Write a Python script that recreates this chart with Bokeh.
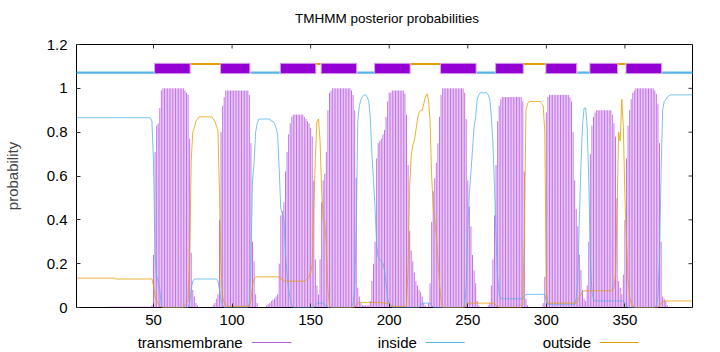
from bokeh.plotting import figure
from bokeh.models import Range1d, FixedTicker, ColumnDataSource
from bokeh.layouts import column
from bokeh.embed import file_html
from bokeh.resources import INLINE
from bokeh.core.properties import value

TITLE = "TMHMM posterior probabilities"
Y_LABEL = "probability"
X_TICKS = [50, 100, 150, 200, 250, 300, 350]
Y_TICKS = [0, 0.2, 0.4, 0.6, 0.8, 1.0, 1.2]
Y_TICK_LABELS = ["0", "0.2", "0.4", "0.6", "0.8", "1", "1.2"]
LEGEND_LABELS = ["transmembrane", "inside", "outside"]
SEQ_LEN = 393
residue = list(range(1, SEQ_LEN + 1))

# posterior probability of transmembrane helix, per residue (1..393)
transmembrane = [
    0, 0, 0, 0, 0, 0, 0, 0, 0, 0,
    0, 0, 0, 0, 0, 0, 0, 0, 0, 0,
    0, 0.004, 0.004, 0.004, 0.004, 0.004, 0.004, 0.004, 0.004, 0.004,
    0.004, 0.004, 0.004, 0.004, 0.004, 0.004, 0.004, 0.004, 0.004, 0.004,
    0.004, 0.004, 0.004, 0.004, 0.004, 0.004, 0.004, 0.004, 0.01, 0.24,
    0.71, 0.83, 0.84, 0.91, 0.99, 1, 1, 1, 1, 1,
    1, 1, 1, 1, 1, 1, 1, 1, 1, 0.99,
    0.98, 0.97, 0.77, 0.25, 0.08, 0.05, 0.02, 0.01, 0, 0,
    0, 0, 0, 0, 0, 0, 0, 0.01, 0.02, 0.04,
    0.06, 0.40, 0.80, 0.92, 0.96, 0.99, 0.99, 0.99, 0.99, 0.99,
    0.99, 0.99, 0.99, 0.99, 0.99, 0.99, 0.99, 0.99, 0.99, 0.99,
    0.97, 0.75, 0.30, 0.21, 0.06, 0.02, 0, 0, 0, 0,
    0, 0.01, 0.015, 0.02, 0.03, 0.035, 0.04, 0.05, 0.06, 0.20,
    0.42, 0.44, 0.48, 0.62, 0.71, 0.79, 0.84, 0.87, 0.88, 0.88,
    0.88, 0.88, 0.88, 0.88, 0.88, 0.87, 0.86, 0.85, 0.84, 0.82,
    0.78, 0.58, 0.22, 0.10, 0.06, 0.22, 0.48, 0.58, 0.61, 0.71,
    0.90, 0.98, 0.99, 1, 1, 1, 1, 1, 1, 1,
    1, 1, 1, 1, 1, 0.99, 0.97, 0.90, 0.59, 0.09,
    0.05, 0.02, 0.01, 0.01, 0.01, 0.01, 0.01, 0.03, 0.12, 0.20,
    0.30, 0.68, 0.75, 0.76, 0.77, 0.79, 0.81, 0.87, 0.94, 0.98,
    0.98, 0.99, 0.99, 0.99, 0.99, 0.99, 0.99, 0.99, 0.99, 0.975,
    0.88, 0.65, 0.35, 0.26, 0.21, 0.16, 0.12, 0.10, 0.08, 0.07,
    0.05, 0.02, 0.01, 0, 0.02, 0.11, 0.39, 0.53, 0.59, 0.66,
    0.75, 0.87, 0.97, 1, 1, 1, 1, 1, 1, 1,
    1, 1, 1, 1, 1, 1, 1, 0.98, 0.86, 0.58,
    0.46, 0.37, 0.24, 0.17, 0.11, 0.03, 0.01, 0, 0, 0,
    0, 0, 0.01, 0.02, 0.10, 0.22, 0.42, 0.65, 0.85, 0.92,
    0.95, 0.96, 0.96, 0.96, 0.96, 0.96, 0.96, 0.96, 0.96, 0.96,
    0.96, 0.96, 0.96, 0.96, 0.94, 0.62, 0.04, 0.01, 0, 0,
    0, 0, 0, 0, 0, 0, 0, 0.02, 0.14, 0.89,
    0.96, 0.97, 0.97, 0.97, 0.97, 0.97, 0.97, 0.97, 0.97, 0.97,
    0.97, 0.97, 0.97, 0.97, 0.96, 0.94, 0.80, 0.58, 0.45, 0.37,
    0.24, 0.17, 0.08, 0.04, 0.03, 0.10, 0.30, 0.70, 0.83, 0.87,
    0.89, 0.90, 0.90, 0.90, 0.90, 0.90, 0.90, 0.90, 0.90, 0.90,
    0.90, 0.88, 0.84, 0.78, 0.50, 0.12, 0.09, 0.06, 0.15, 0.40,
    0.68, 0.83, 0.90, 0.95, 0.98, 0.99, 1, 1, 1, 1,
    1, 1, 1, 1, 1, 1, 1, 1, 0.99, 0.975,
    0.93, 0.75, 0.30, 0.05, 0.04, 0.03, 0.01, 0, 0, 0,
    0, 0, 0, 0, 0, 0, 0, 0, 0, 0,
    0, 0, 0,
]

# posterior probability of "inside", per residue
inside = [
    0.866, 0.866, 0.866, 0.866, 0.866, 0.866, 0.866, 0.866, 0.866, 0.866,
    0.866, 0.866, 0.866, 0.866, 0.866, 0.866, 0.866, 0.866, 0.866, 0.866,
    0.866, 0.866, 0.866, 0.866, 0.866, 0.866, 0.866, 0.866, 0.866, 0.866,
    0.866, 0.866, 0.866, 0.866, 0.866, 0.866, 0.866, 0.866, 0.866, 0.866,
    0.866, 0.866, 0.866, 0.866, 0.866, 0.866, 0.866, 0.866, 0.85, 0.66,
    0.24, 0.14, 0.12, 0.08, 0.01, 0, 0, 0, 0, 0,
    0, 0, 0, 0, 0, 0, 0, 0, 0, 0,
    0, 0, 0.02, 0.08, 0.12, 0.13, 0.13, 0.13, 0.13, 0.13,
    0.13, 0.13, 0.13, 0.13, 0.13, 0.13, 0.13, 0.13, 0.13, 0.13,
    0.12, 0.08, 0.03, 0.01, 0, 0, 0, 0, 0, 0,
    0, 0, 0, 0, 0, 0, 0, 0, 0, 0,
    0.02, 0.20, 0.58, 0.66, 0.80, 0.84, 0.86, 0.86, 0.86, 0.86,
    0.86, 0.86, 0.86, 0.86, 0.85, 0.85, 0.84, 0.82, 0.79, 0.63,
    0.45, 0.43, 0.40, 0.25, 0.15, 0.08, 0.04, 0.01, 0, 0,
    0, 0, 0, 0, 0, 0, 0, 0, 0, 0,
    0, 0, 0.01, 0.02, 0.02, 0.02, 0.02, 0.02, 0.01, 0.01,
    0, 0, 0, 0, 0, 0, 0, 0, 0, 0,
    0, 0, 0, 0, 0, 0, 0.02, 0.08, 0.35, 0.85,
    0.92, 0.95, 0.96, 0.97, 0.97, 0.96, 0.94, 0.86, 0.70, 0.58,
    0.45, 0.28, 0.23, 0.22, 0.21, 0.20, 0.17, 0.11, 0.04, 0.02,
    0.01, 0, 0, 0, 0, 0, 0, 0, 0, 0,
    0, 0, 0, 0, 0, 0, 0, 0, 0, 0.01,
    0.02, 0.02, 0.02, 0.02, 0.02, 0.02, 0.01, 0, 0, 0,
    0, 0, 0, 0, 0, 0, 0, 0, 0, 0,
    0, 0, 0, 0, 0, 0, 0, 0.01, 0.10, 0.35,
    0.52, 0.62, 0.72, 0.82, 0.87, 0.95, 0.97, 0.98, 0.98, 0.98,
    0.98, 0.98, 0.97, 0.95, 0.87, 0.75, 0.55, 0.32, 0.14, 0.06,
    0.04, 0.04, 0.04, 0.04, 0.04, 0.04, 0.04, 0.04, 0.04, 0.04,
    0.04, 0.04, 0.04, 0.04, 0.04, 0.05, 0.06, 0.06, 0.06, 0.06,
    0.06, 0.06, 0.06, 0.06, 0.06, 0.06, 0.06, 0.06, 0.06, 0.03,
    0.015, 0.015, 0.015, 0.015, 0.015, 0.015, 0.015, 0.015, 0.015, 0.015,
    0.015, 0.015, 0.015, 0.015, 0.015, 0.015, 0.015, 0.015, 0.04, 0.12,
    0.40, 0.65, 0.83, 0.91, 0.91, 0.82, 0.58, 0.22, 0.07, 0.04,
    0.03, 0.03, 0.03, 0.03, 0.03, 0.03, 0.03, 0.03, 0.03, 0.03,
    0.03, 0.03, 0.03, 0.03, 0.03, 0.03, 0.03, 0.03, 0.03, 0.02,
    0.01, 0, 0, 0, 0, 0, 0, 0, 0, 0,
    0, 0, 0, 0, 0, 0, 0, 0, 0, 0.01,
    0.05, 0.22, 0.62, 0.90, 0.94, 0.95, 0.96, 0.965, 0.97, 0.97,
    0.97, 0.97, 0.97, 0.97, 0.97, 0.97, 0.97, 0.97, 0.97, 0.97,
    0.97, 0.97, 0.97,
]

# posterior probability of "outside", per residue
outside = [
    0.134, 0.134, 0.134, 0.134, 0.134, 0.134, 0.134, 0.134, 0.134, 0.134,
    0.134, 0.134, 0.134, 0.134, 0.134, 0.134, 0.134, 0.134, 0.134, 0.134,
    0.134, 0.134, 0.134, 0.134, 0.134, 0.13, 0.13, 0.13, 0.13, 0.13,
    0.13, 0.13, 0.13, 0.13, 0.13, 0.13, 0.13, 0.13, 0.13, 0.13,
    0.13, 0.13, 0.13, 0.13, 0.13, 0.13, 0.13, 0.13, 0.13, 0.10,
    0.05, 0.03, 0.02, 0.01, 0, 0, 0, 0, 0, 0,
    0, 0, 0, 0, 0, 0, 0, 0, 0, 0.01,
    0.02, 0.03, 0.21, 0.67, 0.80, 0.82, 0.85, 0.86, 0.87, 0.87,
    0.87, 0.87, 0.87, 0.87, 0.87, 0.87, 0.87, 0.86, 0.85, 0.83,
    0.81, 0.52, 0.17, 0.05, 0.02, 0.01, 0.005, 0.005, 0.005, 0.005,
    0.005, 0.005, 0.005, 0.005, 0.005, 0.005, 0.005, 0.005, 0.005, 0.005,
    0.01, 0.03, 0.10, 0.13, 0.14, 0.14, 0.14, 0.14, 0.14, 0.14,
    0.14, 0.14, 0.14, 0.14, 0.14, 0.14, 0.14, 0.14, 0.14, 0.14,
    0.13, 0.13, 0.12, 0.12, 0.12, 0.12, 0.12, 0.12, 0.12, 0.12,
    0.12, 0.12, 0.12, 0.12, 0.12, 0.12, 0.125, 0.13, 0.14, 0.16,
    0.20, 0.45, 0.68, 0.85, 0.86, 0.76, 0.53, 0.40, 0.39, 0.28,
    0.08, 0.01, 0, 0, 0, 0, 0, 0, 0, 0,
    0, 0, 0, 0, 0, 0, 0, 0, 0.01, 0.02,
    0.023, 0.023, 0.023, 0.023, 0.023, 0.023, 0.023, 0.023, 0.023, 0.023,
    0.023, 0.023, 0.023, 0.023, 0.023, 0.02, 0.02, 0.02, 0.02, 0.015,
    0.01, 0.005, 0.005, 0.005, 0.005, 0.005, 0.005, 0.005, 0.005, 0.005,
    0.01, 0.18, 0.55, 0.69, 0.74, 0.76, 0.81, 0.86, 0.89, 0.90,
    0.90, 0.93, 0.96, 0.975, 0.95, 0.85, 0.60, 0.46, 0.40, 0.32,
    0.22, 0.11, 0.03, 0, 0, 0, 0, 0, 0, 0,
    0, 0, 0, 0, 0, 0, 0, 0, 0.01, 0.02,
    0.02, 0.02, 0.02, 0.02, 0.02, 0.02, 0.02, 0.02, 0.02, 0.02,
    0.02, 0.02, 0.02, 0.02, 0.02, 0.02, 0.02, 0.01, 0.005, 0,
    0, 0, 0, 0, 0, 0, 0, 0, 0, 0,
    0, 0, 0, 0, 0.02, 0.30, 0.90, 0.93, 0.94, 0.94,
    0.94, 0.94, 0.94, 0.94, 0.94, 0.94, 0.93, 0.92, 0.80, 0.08,
    0.02, 0.02, 0.02, 0.02, 0.02, 0.02, 0.02, 0.02, 0.02, 0.02,
    0.02, 0.02, 0.02, 0.02, 0.02, 0.02, 0.02, 0.02, 0.02, 0.03,
    0.05, 0.06, 0.07, 0.076, 0.076, 0.076, 0.076, 0.076, 0.076, 0.076,
    0.076, 0.076, 0.076, 0.076, 0.076, 0.076, 0.076, 0.076, 0.076, 0.076,
    0.076, 0.08, 0.09, 0.15, 0.45, 0.80, 0.76, 0.95, 0.82, 0.50,
    0.30, 0.12, 0.05, 0.02, 0.01, 0, 0, 0, 0, 0,
    0, 0, 0, 0, 0, 0, 0, 0, 0, 0,
    0, 0.01, 0.02, 0.025, 0.03, 0.03, 0.03, 0.03, 0.03, 0.03,
    0.03, 0.03, 0.03, 0.03, 0.03, 0.03, 0.03, 0.03, 0.03, 0.03,
    0.03, 0.03, 0.03,
]

# predicted topology (residue ranges)
tm_start = [51, 93, 131, 157, 191, 233, 268, 300, 328, 351]
tm_end = [73, 111, 153, 179, 213, 255, 285, 319, 345, 373]
in_start = [1, 112, 180, 256, 320, 374]
in_end = [50, 130, 190, 267, 327, 393]
out_start = [74, 154, 214, 286, 346]
out_end = [92, 156, 232, 299, 350]

FONT = "Liberation Sans"
C_TM = "#9400d3"
C_IN = "#56b4e9"
C_OUT = "#e69f00"

FRAME_L, FRAME_R = 73, 692
TITLE_H = 30


def strip(height):
    f = figure(width=720, height=height, x_range=Range1d(FRAME_L, FRAME_R),
               y_range=Range1d(0, height), output_backend="svg", toolbar_location=None,
               min_border_left=FRAME_L, min_border_right=720 - FRAME_R,
               min_border_top=0, min_border_bottom=0,
               x_axis_location=None, y_axis_location=None)
    f.xgrid.visible = False
    f.ygrid.visible = False
    f.outline_line_color = None
    f.background_fill_color = "white"
    f.border_fill_color = "white"
    return f


# title strip (x range in canvas pixels)
top = strip(TITLE_H)
top.text(x=[385], y=[TITLE_H - 18], text=[TITLE], text_align="center",
         text_baseline="middle", text_font=value(FONT), text_font_size="13.5px",
         text_color="black")

p = figure(width=720, height=334 - TITLE_H, x_range=Range1d(1, SEQ_LEN),
           y_range=Range1d(0, 1.2), output_backend="svg", toolbar_location=None,
           min_border_left=FRAME_L, min_border_right=720 - FRAME_R,
           min_border_top=44 - TITLE_H, min_border_bottom=27)
p.xgrid.visible = False
p.ygrid.visible = False
p.outline_line_color = "black"
p.outline_line_width = 1
p.background_fill_color = "white"
p.border_fill_color = "white"


def style_axis(ax, ticks):
    ax.ticker = FixedTicker(ticks=ticks)
    ax.axis_line_color = None
    ax.major_tick_in = 4
    ax.major_tick_out = 0
    ax.major_tick_line_color = "#333333"
    ax.minor_tick_line_color = None
    ax.major_label_text_font = FONT
    ax.major_label_text_font_size = "15px"
    ax.major_label_text_color = "black"


style_axis(p.xaxis[0], X_TICKS)
p.xaxis[0].major_label_standoff = 7
style_axis(p.yaxis[0], Y_TICKS)
p.yaxis[0].major_label_standoff = 9
p.yaxis[0].major_label_overrides = dict(zip(Y_TICKS, Y_TICK_LABELS))
p.yaxis[0].axis_label = Y_LABEL
p.yaxis[0].axis_label_text_font = FONT
p.yaxis[0].axis_label_text_font_size = "15px"
p.yaxis[0].axis_label_text_font_style = "normal"
p.yaxis[0].axis_label_standoff = 23

# mirrored inward ticks on the top and right borders (4 px long)
tick_dy = 4 * 1.2 / 263
tick_dx = 4 * (SEQ_LEN - 1) / (FRAME_R - FRAME_L)
p.segment(x0=X_TICKS, y0=[1.2] * len(X_TICKS), x1=X_TICKS, y1=[1.2 - tick_dy] * len(X_TICKS),
          line_color="#333333", line_width=1)
p.segment(x0=[SEQ_LEN] * len(Y_TICKS), y0=Y_TICKS, x1=[SEQ_LEN - tick_dx] * len(Y_TICKS),
          y1=Y_TICKS, line_color="#333333", line_width=1)

src = ColumnDataSource(dict(x=residue, tm=transmembrane, inside=inside, outside=outside))
p.segment(x0="x", y0=0, x1="x", y1="tm", source=src, line_color=C_TM, line_width=1,
          line_alpha=0.55)
p.line("x", "inside", source=src, line_color=C_IN, line_width=1, line_alpha=0.8)
p.line("x", "outside", source=src, line_color=C_OUT, line_width=1, line_alpha=0.8)

p.quad(left=[s - 0.3 for s in in_start], right=[e + 0.3 for e in in_end],
       bottom=1.067, top=1.077, fill_color=C_IN, line_color=None)
p.quad(left=[s - 0.3 for s in out_start], right=[e + 0.3 for e in out_end],
       bottom=1.106, top=1.116, fill_color=C_OUT, line_color=None)
p.quad(left=[s - 0.3 for s in tm_start], right=[e + 0.3 for e in tm_end],
       bottom=1.067, top=1.114, fill_color=C_TM, line_color="#d3a0ec", line_width=1)

# legend strip (x range in canvas pixels)
leg = strip(18)
leg.text(x=[240, 415, 590], y=[10, 10, 10], text=LEGEND_LABELS, text_align="right",
         text_baseline="middle", text_font=value(FONT), text_font_size="15px",
         text_color="black")
leg.segment(x0=[249, 424, 599], y0=[10, 10, 10], x1=[289, 463, 638], y1=[10, 10, 10],
            line_color=["#b060e0", C_IN, C_OUT], line_width=1)

layout = column(top, p, leg, spacing=0)
open("out.html", "w").write(file_html(layout, INLINE))
